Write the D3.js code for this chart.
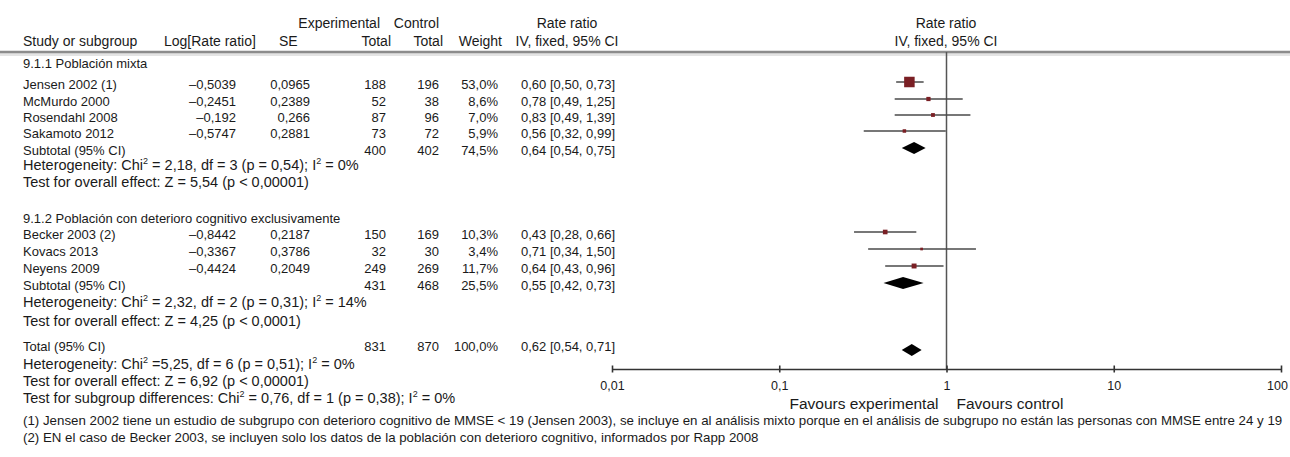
<!DOCTYPE html>
<html>
<head>
<meta charset="utf-8">
<script src="https://cdn.jsdelivr.net/npm/d3@7"></script>
<style>
body { margin: 0; background: #fff; }
svg { display: block; font-family: "Liberation Sans", Arial, Helvetica, sans-serif; }
</style>
</head>
<body>
<script>
// ---- data ----
var group1Title = "9.1.1 Población mixta";
var group1Studies = ["Jensen 2002 (1)", "McMurdo 2000", "Rosendahl 2008", "Sakamoto 2012"];
var group1LogRR = [-0.5039, -0.2451, -0.192, -0.5747];
var group1SE = [0.0965, 0.2389, 0.266, 0.2881];
var group1Exp = [188, 52, 87, 73];
var group1Ctrl = [196, 38, 96, 72];
var group1Weight = [53.0, 8.6, 7.0, 5.9];
var group1RR = [0.60, 0.78, 0.83, 0.56];
var group1Lo = [0.50, 0.49, 0.49, 0.32];
var group1Hi = [0.73, 1.25, 1.39, 0.99];

var group2Title = "9.1.2 Población con deterioro cognitivo exclusivamente";
var group2Studies = ["Becker 2003 (2)", "Kovacs 2013", "Neyens 2009"];
var group2LogRR = [-0.8442, -0.3367, -0.4424];
var group2SE = [0.2187, 0.3786, 0.2049];
var group2Exp = [150, 32, 249];
var group2Ctrl = [169, 30, 269];
var group2Weight = [10.3, 3.4, 11.7];
var group2RR = [0.43, 0.71, 0.64];
var group2Lo = [0.28, 0.34, 0.43];
var group2Hi = [0.66, 1.50, 0.96];

var subtotalExp = [400, 431];
var subtotalCtrl = [402, 468];
var subtotalWeight = [74.5, 25.5];
var subtotalRR = [0.64, 0.55];
var subtotalLo = [0.54, 0.42];
var subtotalHi = [0.75, 0.73];

var totalExp = 831, totalCtrl = 870, totalWeight = 100.0;
var totalRR = 0.62, totalLo = 0.54, totalHi = 0.71;

// heterogeneity / test lines: [text, isSuperscript]
var group1Het = [["Heterogeneity: Chi"], ["2", 1], [" = 2,18, df = 3 (p = 0,54); I"], ["2", 1], [" = 0%"]];
var group1Test = [["Test for overall effect: Z = 5,54 (p < 0,00001)"]];
var group2Het = [["Heterogeneity: Chi"], ["2", 1], [" = 2,32, df = 2 (p = 0,31); I"], ["2", 1], [" = 14%"]];
var group2Test = [["Test for overall effect: Z = 4,25 (p < 0,0001)"]];
var totalHet = [["Heterogeneity: Chi"], ["2", 1], [" =5,25, df = 6 (p = 0,51); I"], ["2", 1], [" = 0%"]];
var totalTest = [["Test for overall effect: Z = 6,92 (p < 0,00001)"]];
var subgroupTest = [["Test for subgroup differences: Chi"], ["2", 1], [" = 0,76, df = 1 (p = 0,38); I"], ["2", 1], [" = 0%"]];

var footnotes = [
  "(1) Jensen 2002 tiene un estudio de subgrupo con deterioro cognitivo de MMSE < 19 (Jensen 2003), se incluye en al análisis mixto porque en el análisis de subgrupo no están las personas con MMSE entre 24 y 19",
  "(2) EN el caso de Becker 2003, se incluyen solo los datos de la población con deterioro cognitivo, informados por Rapp 2008"
];

var axisTicks = [0.01, 0.1, 1, 10, 100];
var axisTickLabels = ["0,01", "0,1", "1", "10", "100"];

// ---- layout ----
var w = 1290, h = 457;
var rowY = {
  head1: 23, head2: 41, line: 52,
  g1title: 63, g1rows: [84, 101, 117, 133], g1sub: 150, g1het: 165, g1test: 182,
  g2title: 218, g2rows: [234, 251, 268], g2sub: 285, g2het: 302, g2test: 321,
  total: 346, het: 364, test: 381, subtest: 398,
  fn: [420, 437], axis: 369, tickLabel: 387, favours: 404
};
var col = { study: 23, logRR: 236, se: 310, exp: 386, ctrl: 439, weight: 498, ci: 615, ciCenter: 567 };

var svg = d3.select("body").append("svg").attr("width", w).attr("height", h);
svg.append("rect").attr("width", w).attr("height", h).attr("fill", "#fff");

var xScale = d3.scaleLog().domain([0.01, 100]).range([612, 1281]);
var boxSize = d3.scaleSqrt().domain([0, 53]).range([0, 10.5]);

function comma(v, d) { return (d == null ? String(v) : v.toFixed(d)).replace(".", ","); }
function signed(v) { return (v < 0 ? "\u2013" : "") + comma(Math.abs(v)); }
function ciText(rr, lo, hi) { return comma(rr, 2) + " [" + comma(lo, 2) + ", " + comma(hi, 2) + "]"; }

function txt(x, y, s, size, anchor) {
  return svg.append("text").attr("x", x).attr("y", y).attr("dy", "0.35em")
    .attr("font-size", size).attr("text-anchor", anchor || "start").attr("fill", "#1a1a1a").text(s);
}

function richText(x, y, parts, size) {
  var t = svg.append("text").attr("x", x).attr("y", y).attr("dy", "0.35em")
    .attr("font-size", size).attr("fill", "#1a1a1a");
  var up = false;
  parts.forEach(function (p) {
    var sp = t.append("tspan").text(p[0]);
    if (p[1]) { sp.attr("font-size", size * 0.62).attr("dy", -size * 0.42); up = true; }
    else if (up) { sp.attr("dy", size * 0.42); up = false; }
  });
}

// ---- header ----
txt(380, rowY.head1, "Experimental", 14, "end");
txt(439, rowY.head1, "Control", 14, "end");
txt(col.ciCenter, rowY.head1, "Rate ratio", 14, "middle");
txt(946, rowY.head1, "Rate ratio", 14, "middle");
txt(col.study, rowY.head2, "Study or subgroup", 14);
txt(164, rowY.head2, "Log[Rate ratio]", 14);
txt(279, rowY.head2, "SE", 14);
txt(391, rowY.head2, "Total", 14, "end");
txt(443, rowY.head2, "Total", 14, "end");
txt(502, rowY.head2, "Weight", 14, "end");
txt(col.ciCenter, rowY.head2, "IV, fixed, 95% CI", 14, "middle");
txt(946, rowY.head2, "IV, fixed, 95% CI", 14, "middle");

svg.append("line").attr("x1", 0).attr("x2", w).attr("y1", rowY.line + 2.5).attr("y2", rowY.line + 2.5)
  .attr("stroke", "#e4e4e4").attr("stroke-width", 3);
svg.append("line").attr("x1", 0).attr("x2", w).attr("y1", rowY.line).attr("y2", rowY.line)
  .attr("stroke", "#8c8c8c").attr("stroke-width", 2.5);

// no-effect line
svg.append("line").attr("x1", xScale(1)).attr("x2", xScale(1))
  .attr("y1", rowY.line).attr("y2", rowY.axis)
  .attr("stroke", "#555").attr("stroke-width", 1.5);

// ---- study rows ----
function studyRows(names, logrr, se, exp, ctrl, wt, rr, lo, hi, ys) {
  names.forEach(function (n, i) {
    var y = ys[i];
    txt(col.study, y, n, 13);
    txt(col.logRR, y, signed(logrr[i]), 13, "end");
    txt(col.se, y, comma(se[i]), 13, "end");
    txt(col.exp, y, exp[i], 13, "end");
    txt(col.ctrl, y, ctrl[i], 13, "end");
    txt(col.weight, y, comma(wt[i], 1) + "%", 13, "end");
    txt(col.ci, y, ciText(rr[i], lo[i], hi[i]), 13, "end");
    var my = y - 2;
    svg.append("line").attr("x1", xScale(lo[i])).attr("x2", xScale(hi[i]))
      .attr("y1", my).attr("y2", my).attr("stroke", "#4a4a4a").attr("stroke-width", 1.5);
    var s = boxSize(wt[i]);
    svg.append("rect").attr("x", xScale(rr[i]) - s / 2).attr("y", my - s / 2)
      .attr("width", s).attr("height", s).attr("fill", "#7a1f24");
  });
}

function diamond(rr, lo, hi, y) {
  var pts = [[xScale(lo), y], [xScale(rr), y - 6], [xScale(hi), y], [xScale(rr), y + 6]];
  svg.append("path").attr("d", d3.line()(pts) + "Z").attr("fill", "#000");
}

function summaryRow(label, exp, ctrl, wt, rr, lo, hi, y, dy) {
  txt(col.study, y, label, 13);
  txt(col.exp, y, exp, 13, "end");
  txt(col.ctrl, y, ctrl, 13, "end");
  txt(col.weight, y, comma(wt, 1) + "%", 13, "end");
  txt(col.ci, y, ciText(rr, lo, hi), 13, "end");
  diamond(rr, lo, hi, y + dy);
}

txt(col.study, rowY.g1title, group1Title, 13);
studyRows(group1Studies, group1LogRR, group1SE, group1Exp, group1Ctrl, group1Weight,
  group1RR, group1Lo, group1Hi, rowY.g1rows);
summaryRow("Subtotal (95% CI)", subtotalExp[0], subtotalCtrl[0], subtotalWeight[0],
  subtotalRR[0], subtotalLo[0], subtotalHi[0], rowY.g1sub, -2);
richText(col.study, rowY.g1het, group1Het, 14.5);
richText(col.study, rowY.g1test, group1Test, 14.5);

txt(col.study, rowY.g2title, group2Title, 13);
studyRows(group2Studies, group2LogRR, group2SE, group2Exp, group2Ctrl, group2Weight,
  group2RR, group2Lo, group2Hi, rowY.g2rows);
summaryRow("Subtotal (95% CI)", subtotalExp[1], subtotalCtrl[1], subtotalWeight[1],
  subtotalRR[1], subtotalLo[1], subtotalHi[1], rowY.g2sub, -2);
richText(col.study, rowY.g2het, group2Het, 14.5);
richText(col.study, rowY.g2test, group2Test, 14.5);

summaryRow("Total (95% CI)", totalExp, totalCtrl, totalWeight, totalRR, totalLo, totalHi, rowY.total, 4);
richText(col.study, rowY.het, totalHet, 14.5);
richText(col.study, rowY.test, totalTest, 14.5);
richText(col.study, rowY.subtest, subgroupTest, 14.5);

footnotes.forEach(function (f, i) { txt(col.study, rowY.fn[i], f, 13.3); });

// ---- axis ----
var axis = d3.axisBottom(xScale).tickValues(axisTicks)
  .tickFormat(function (d, i) { return axisTickLabels[i]; }).tickSize(0).tickPadding(12);
var ax = svg.append("g").attr("transform", "translate(0," + rowY.axis + ")").call(axis);
ax.select(".domain").attr("stroke", "#333").attr("stroke-width", 1.6);
ax.selectAll(".tick line").attr("y1", -3.5).attr("y2", 3.5).attr("stroke", "#333").attr("stroke-width", 1.6);
ax.selectAll(".tick text").attr("font-size", 12.5).attr("fill", "#1a1a1a")
  .attr("font-family", "Liberation Sans, Arial, sans-serif");
// keep the last label ("100") inside the page edge
ax.selectAll(".tick text").filter(function (d) { return d === 100; }).attr("dx", -4);

txt(xScale(1) - 8, rowY.favours, "Favours experimental", 15.5, "end");
txt(xScale(1) + 10, rowY.favours, "Favours control", 15.5, "start");
</script>
</body>
</html>
